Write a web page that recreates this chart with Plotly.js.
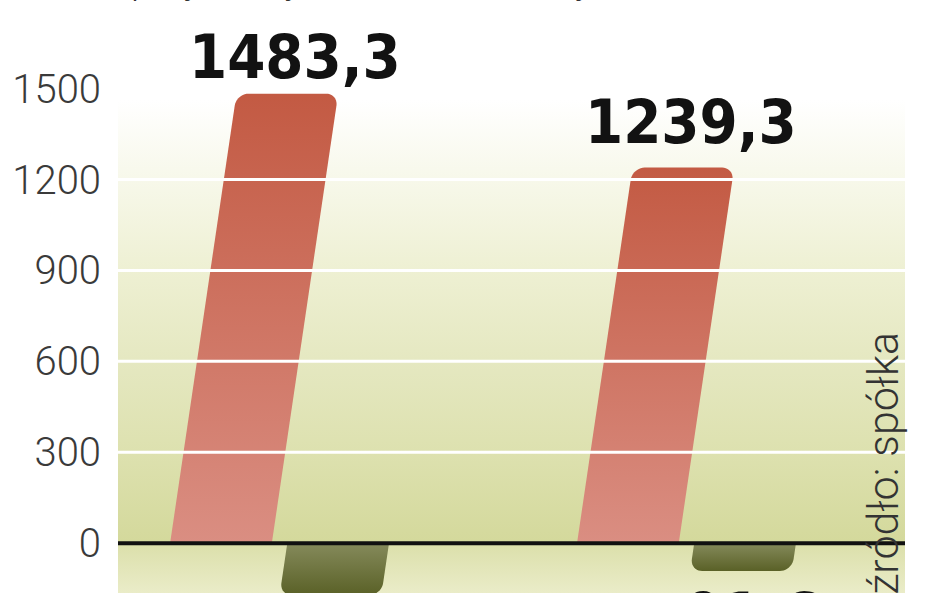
<!DOCTYPE html>
<html>
<head>
<meta charset="utf-8">
<script src="https://cdn.plot.ly/plotly-3.0.1.min.js"></script>
<style>
  html, body { margin: 0; padding: 0; overflow: hidden; background: #fff; }
  #chart { position: absolute; left: 0; top: -29px; width: 948px; height: 700px; }
</style>
</head>
<body>
<div id="chart"></div>
<script>
// values (mln zł)
var periods = [0, 1];
var przychody = [1483.3, 1239.3];
var wynik = [-171.2, -91.6];
var yTicks = [0, 300, 600, 900, 1200, 1500];
var seriesNames = ['przychody', 'wynik netto'];
var source = 'źródło: spółka';

// geometry of the plot
var W = 948, H = 700;
var M = {l: 118, r: 43, t: 57, b: 49};
var X_RANGE = [-0.397, 1.537];
var Y_RANGE = [-260, 1700];
var PX_X = (W - M.l - M.r) / (X_RANGE[1] - X_RANGE[0]);
var PX_Y = (H - M.t - M.b) / (Y_RANGE[1] - Y_RANGE[0]);

var BAR_W = 0.25;      // bar width, x units
var OFFSET = 0.144;    // distance of each bar from the group centre
var SLANT = 1.1e-4;    // sideways lean, x units per y unit
var RADIUS = 12;       // corner rounding, px
var LABEL_LIFT = [0, 9]; // extra gap above each top label, px

function fmt(v) { return v.toFixed(1).replace('.', ','); }

// slanted bar with rounded far corners, as a filled polygon
function slantBar(pos, v) {
  var half = BAR_W / 2, ru = RADIUS / PX_X, rt = RADIUS / PX_Y;
  var dir = v >= 0 ? 1 : -1;
  var xs = [], ys = [];
  function pt(u, t) { xs.push(pos + u + SLANT * t); ys.push(t); }
  pt(-half, 0);
  pt(half, 0);
  var ct = v - dir * rt;
  var i, a;
  for (i = 0; i <= 10; i++) {
    a = i / 10 * Math.PI / 2;
    pt(half - ru + ru * Math.cos(a), ct + dir * rt * Math.sin(a));
  }
  for (i = 0; i <= 10; i++) {
    a = Math.PI / 2 + i / 10 * Math.PI / 2;
    pt(-half + ru + ru * Math.cos(a), ct + dir * rt * Math.sin(a));
  }
  pt(-half, 0);
  return {x: xs, y: ys};
}

var redScale = [[0, '#da8e82'], [1, '#c35a43']];
var greenScale = [[0, '#5a6127'], [1, '#858a5b']];

var data = [];
periods.forEach(function (p, i) {
  var r = slantBar(p - OFFSET, przychody[i]);
  data.push({
    type: 'scatter', mode: 'none', fill: 'toself',
    x: r.x, y: r.y,
    fillcolor: '#cc6d5a',
    fillgradient: {type: 'vertical', colorscale: redScale},
    name: seriesNames[0], legendgroup: 'p', showlegend: i === 0,
    hoverinfo: 'skip'
  });
  var g = slantBar(p + OFFSET, wynik[i]);
  data.push({
    type: 'scatter', mode: 'none', fill: 'toself',
    x: g.x, y: g.y,
    fillcolor: '#707640',
    fillgradient: {type: 'vertical', colorscale: greenScale},
    name: seriesNames[1], legendgroup: 'w', showlegend: i === 0,
    hoverinfo: 'skip'
  });
});

// value labels sit over the leaning end of each bar
var labelFont = {family: 'DejaVu Sans Condensed, DejaVu Sans', size: 61, weight: 700,
                 stretch: 'condensed', color: '#121212'};
var annotations = [];
periods.forEach(function (p, i) {
  annotations.push({
    x: p - OFFSET + SLANT * przychody[i], y: przychody[i],
    text: fmt(przychody[i]), showarrow: false,
    xanchor: 'center', yanchor: 'bottom', xshift: 8, yshift: LABEL_LIFT[i],
    font: labelFont
  });
  annotations.push({
    x: p + OFFSET + SLANT * wynik[i], y: wynik[i],
    text: fmt(wynik[i]), showarrow: false,
    xanchor: 'center', yanchor: 'top', yshift: -6,
    font: labelFont
  });
});
annotations.push({
  text: source, xref: 'paper', x: 0.9715, yref: 'y', y: 705,
  textangle: -90, xanchor: 'center', yanchor: 'top', showarrow: false,
  font: {family: 'Roboto', size: 43, weight: 300, color: '#333333'}
});

// background: white at the top, olive-cream towards the zero line
function yf(pageY) { return ((pageY + 29 - M.t) / (H - M.t - M.b)).toFixed(3); }
var stops = [
  [100, '#ffffff'], [180, '#f7f8ea'], [270, '#eef0d3'], [360, '#e5e8c1'],
  [452, '#dde1af'], [541, '#d4d99c'], [546, '#dce0ac'], [593, '#eaecc8'], [622, '#f0f2d8']
];
var svg = '<svg xmlns="http://www.w3.org/2000/svg" width="100" height="100" viewBox="0 0 100 100" preserveAspectRatio="none">' +
  '<defs><linearGradient id="g" x1="0" y1="0" x2="0" y2="1">' +
  stops.map(function (s) { return '<stop offset="' + yf(s[0]) + '" stop-color="' + s[1] + '"/>'; }).join('') +
  '</linearGradient></defs><rect width="100" height="100" fill="url(#g)"/></svg>';

var shapes = yTicks.filter(function (t) { return t > 0; }).map(function (t) {
  return {type: 'line', xref: 'paper', x0: 0, x1: 1, yref: 'y', y0: t, y1: t,
          line: {color: '#ffffff', width: 3}, layer: 'above'};
});
shapes.push({type: 'line', xref: 'paper', x0: 0, x1: 1, yref: 'y', y0: 0, y1: 0,
             line: {color: '#111111', width: 4}, layer: 'above'});

var layout = {
  width: W, height: H,
  margin: M,
  paper_bgcolor: '#ffffff',
  plot_bgcolor: 'rgba(0,0,0,0)',
  showlegend: true,
  legend: {
    orientation: 'h', x: -0.085, xanchor: 'left', y: 1.03, yanchor: 'bottom',
    itemwidth: 70, entrywidth: 330,
    font: {family: 'Roboto', size: 38, weight: 300, color: '#333333'},
    bgcolor: 'rgba(0,0,0,0)'
  },
  xaxis: {range: X_RANGE, visible: false, showgrid: false, zeroline: false, fixedrange: true},
  yaxis: {
    range: Y_RANGE, tickvals: yTicks, ticktext: yTicks.map(String),
    showgrid: false, zeroline: false, showline: false, ticks: '',
    ticklabelstandoff: 16, fixedrange: true,
    tickfont: {family: 'Roboto', size: 40, weight: 300, color: '#3a3a3a'}
  },
  images: [{
    source: 'data:image/svg+xml;charset=utf-8,' + encodeURIComponent(svg),
    xref: 'paper', yref: 'paper', x: 0, y: 1, sizex: 1, sizey: 1,
    xanchor: 'left', yanchor: 'top', sizing: 'stretch', layer: 'below'
  }],
  shapes: shapes,
  annotations: annotations
};
layout.margin.autoexpand = false;

Plotly.newPlot('chart', data, layout, {displayModeBar: false, staticPlot: true});
</script>
</body>
</html>
